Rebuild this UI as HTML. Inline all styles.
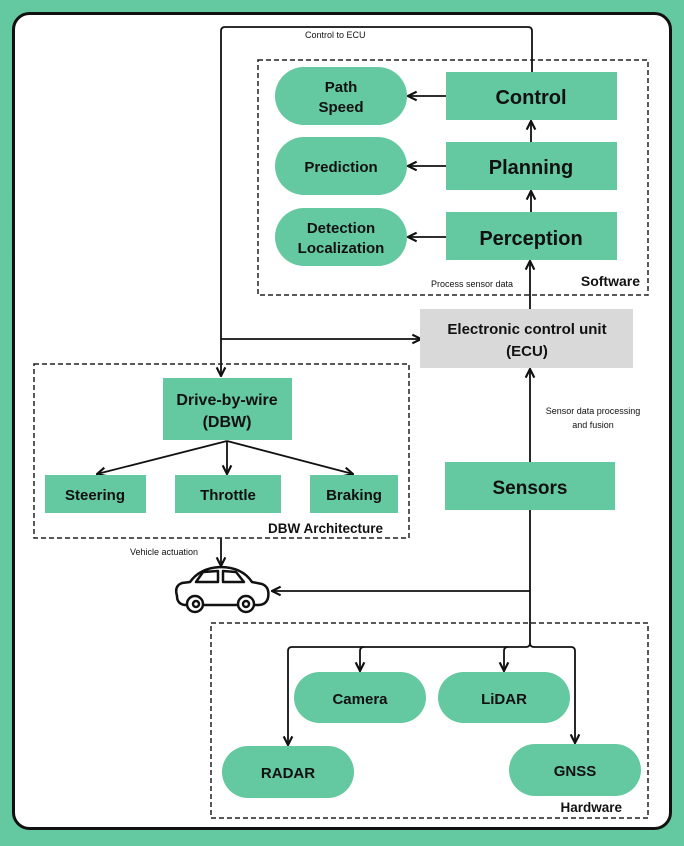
<!DOCTYPE html>
<html><head><meta charset="utf-8"><style>
html,body{margin:0;padding:0;background:#64c8a0;}
svg{display:block}
text{font-family:"Liberation Sans",sans-serif;fill:#111;}
.b{font-weight:bold}
</style></head><body>
<svg width="684" height="846" viewBox="0 0 684 846" xmlns="http://www.w3.org/2000/svg">
<defs>
<marker id="a" viewBox="0 0 10 10" refX="9" refY="5" markerWidth="6" markerHeight="6" orient="auto-start-reverse">
<path d="M1,1 L9,5 L1,9" fill="none" stroke="#111" stroke-width="2"/>
</marker>
</defs>
<rect x="0" y="0" width="684" height="846" fill="#64c8a0"/>
<rect x="13.5" y="13.5" width="657" height="815" rx="16" fill="#fff" stroke="#111" stroke-width="3"/>

<!-- Software box -->
<rect x="258" y="60" width="390" height="235" fill="none" stroke="#222" stroke-width="1.5" stroke-dasharray="5,3"/>
<text x="640" y="286" text-anchor="end" class="b" font-size="14">Software</text>

<g fill="#64c8a0">
<rect x="446" y="72" width="171" height="48"/>
<rect x="446" y="142" width="171" height="48"/>
<rect x="446" y="212" width="171" height="48"/>
<rect x="275" y="67" width="132" height="58" rx="29"/>
<rect x="275" y="137" width="132" height="58" rx="29"/>
<rect x="275" y="208" width="132" height="58" rx="29"/>
</g>
<text x="531" y="104" text-anchor="middle" class="b" font-size="20">Control</text>
<text x="531" y="174" text-anchor="middle" class="b" font-size="20">Planning</text>
<text x="531" y="245" text-anchor="middle" class="b" font-size="20">Perception</text>
<text x="341" y="92" text-anchor="middle" class="b" font-size="15">Path</text>
<text x="341" y="112" text-anchor="middle" class="b" font-size="15">Speed</text>
<text x="341" y="172" text-anchor="middle" class="b" font-size="15">Prediction</text>
<text x="341" y="233" text-anchor="middle" class="b" font-size="15">Detection</text>
<text x="341" y="253" text-anchor="middle" class="b" font-size="15">Localization</text>

<g stroke="#111" stroke-width="1.8" fill="none">
<line x1="446" y1="96" x2="408" y2="96" marker-end="url(#a)"/>
<line x1="446" y1="166" x2="408" y2="166" marker-end="url(#a)"/>
<line x1="446" y1="237" x2="408" y2="237" marker-end="url(#a)"/>
<line x1="531" y1="142" x2="531" y2="121" marker-end="url(#a)"/>
<line x1="531" y1="212" x2="531" y2="191" marker-end="url(#a)"/>
<line x1="530" y1="309" x2="530" y2="261" marker-end="url(#a)"/>
<path d="M532,72 L532,31 Q532,27 528,27 L225,27 Q221,27 221,31 L221,376" marker-end="url(#a)"/>
<line x1="221" y1="339" x2="421" y2="339" marker-end="url(#a)"/>
<line x1="530" y1="462" x2="530" y2="369" marker-end="url(#a)"/>
<line x1="221" y1="538" x2="221" y2="566" marker-end="url(#a)"/>
<path d="M530,510 L530,643 Q530,647 526,647 L292,647 Q288,647 288,651 L288,745" marker-end="url(#a)"/>
<line x1="530" y1="591" x2="272" y2="591" marker-end="url(#a)"/>
<path d="M364,647 Q360,647 360,651 L360,671" marker-end="url(#a)"/>
<path d="M508,647 Q504,647 504,651 L504,671" marker-end="url(#a)"/>
<path d="M530,643 Q530,647 534,647 L571,647 Q575,647 575,651 L575,743" marker-end="url(#a)"/>
<line x1="227" y1="441" x2="97" y2="474" marker-end="url(#a)"/>
<line x1="227" y1="441" x2="227" y2="474" marker-end="url(#a)"/>
<line x1="227" y1="441" x2="353" y2="474" marker-end="url(#a)"/>
</g>
<text x="305" y="38" font-size="9" fill="#333">Control to ECU</text>
<text x="431" y="287" font-size="9" fill="#333">Process sensor data</text>
<text x="593" y="414" text-anchor="middle" font-size="9" fill="#333">Sensor data processing</text>
<text x="593" y="428" text-anchor="middle" font-size="9" fill="#333">and fusion</text>
<text x="130" y="555" font-size="9" fill="#333">Vehicle actuation</text>

<!-- ECU -->
<rect x="420" y="309" width="213" height="59" fill="#d9d9d9"/>
<text x="527" y="334" text-anchor="middle" class="b" font-size="15">Electronic control unit</text>
<text x="527" y="356" text-anchor="middle" class="b" font-size="15">(ECU)</text>

<!-- DBW -->
<rect x="34" y="364" width="375" height="174" fill="none" stroke="#222" stroke-width="1.5" stroke-dasharray="5,3"/>
<g fill="#64c8a0">
<rect x="163" y="378" width="129" height="62"/>
<rect x="45" y="475" width="101" height="38"/>
<rect x="175" y="475" width="106" height="38"/>
<rect x="310" y="475" width="88" height="38"/>
<rect x="445" y="462" width="170" height="48"/>
</g>
<text x="227" y="405" text-anchor="middle" class="b" font-size="16">Drive-by-wire</text>
<text x="227" y="427" text-anchor="middle" class="b" font-size="16">(DBW)</text>
<text x="95" y="500" text-anchor="middle" class="b" font-size="15">Steering</text>
<text x="228" y="500" text-anchor="middle" class="b" font-size="15">Throttle</text>
<text x="354" y="500" text-anchor="middle" class="b" font-size="15">Braking</text>
<text x="383" y="533" text-anchor="end" class="b" font-size="13.5">DBW Architecture</text>
<text x="530" y="494" text-anchor="middle" class="b" font-size="19">Sensors</text>

<!-- Car -->
<g stroke="#111" stroke-width="2.5" fill="none" stroke-linejoin="round">
<path d="M177,596 Q174,586 182,583 L190,582 Q200,568 220,567 Q242,567 252,582 L262,584 Q270,587 268,598 Q266,605 258,605 L185,605 Q177,604 177,596 Z"/>
<path d="M196,582 L203,572 L218,571 L218,582 Z"/>
<path d="M223,571 L236,572 L244,582 L223,582 Z"/>
<circle cx="195" cy="604" r="8" fill="#fff"/>
<circle cx="196" cy="604" r="3"/>
<circle cx="246" cy="604" r="8" fill="#fff"/>
<circle cx="246" cy="604" r="3"/>
</g>

<!-- Hardware -->
<rect x="211" y="623" width="437" height="195" fill="none" stroke="#222" stroke-width="1.5" stroke-dasharray="5,3"/>
<g fill="#64c8a0">
<rect x="294" y="672" width="132" height="51" rx="25.5"/>
<rect x="438" y="672" width="132" height="51" rx="25.5"/>
<rect x="222" y="746" width="132" height="52" rx="26"/>
<rect x="509" y="744" width="132" height="52" rx="26"/>
</g>
<text x="360" y="704" text-anchor="middle" class="b" font-size="15">Camera</text>
<text x="504" y="704" text-anchor="middle" class="b" font-size="15">LiDAR</text>
<text x="288" y="778" text-anchor="middle" class="b" font-size="15">RADAR</text>
<text x="575" y="776" text-anchor="middle" class="b" font-size="15">GNSS</text>
<text x="622" y="812" text-anchor="end" class="b" font-size="13.5">Hardware</text>
</svg>
</body></html>
